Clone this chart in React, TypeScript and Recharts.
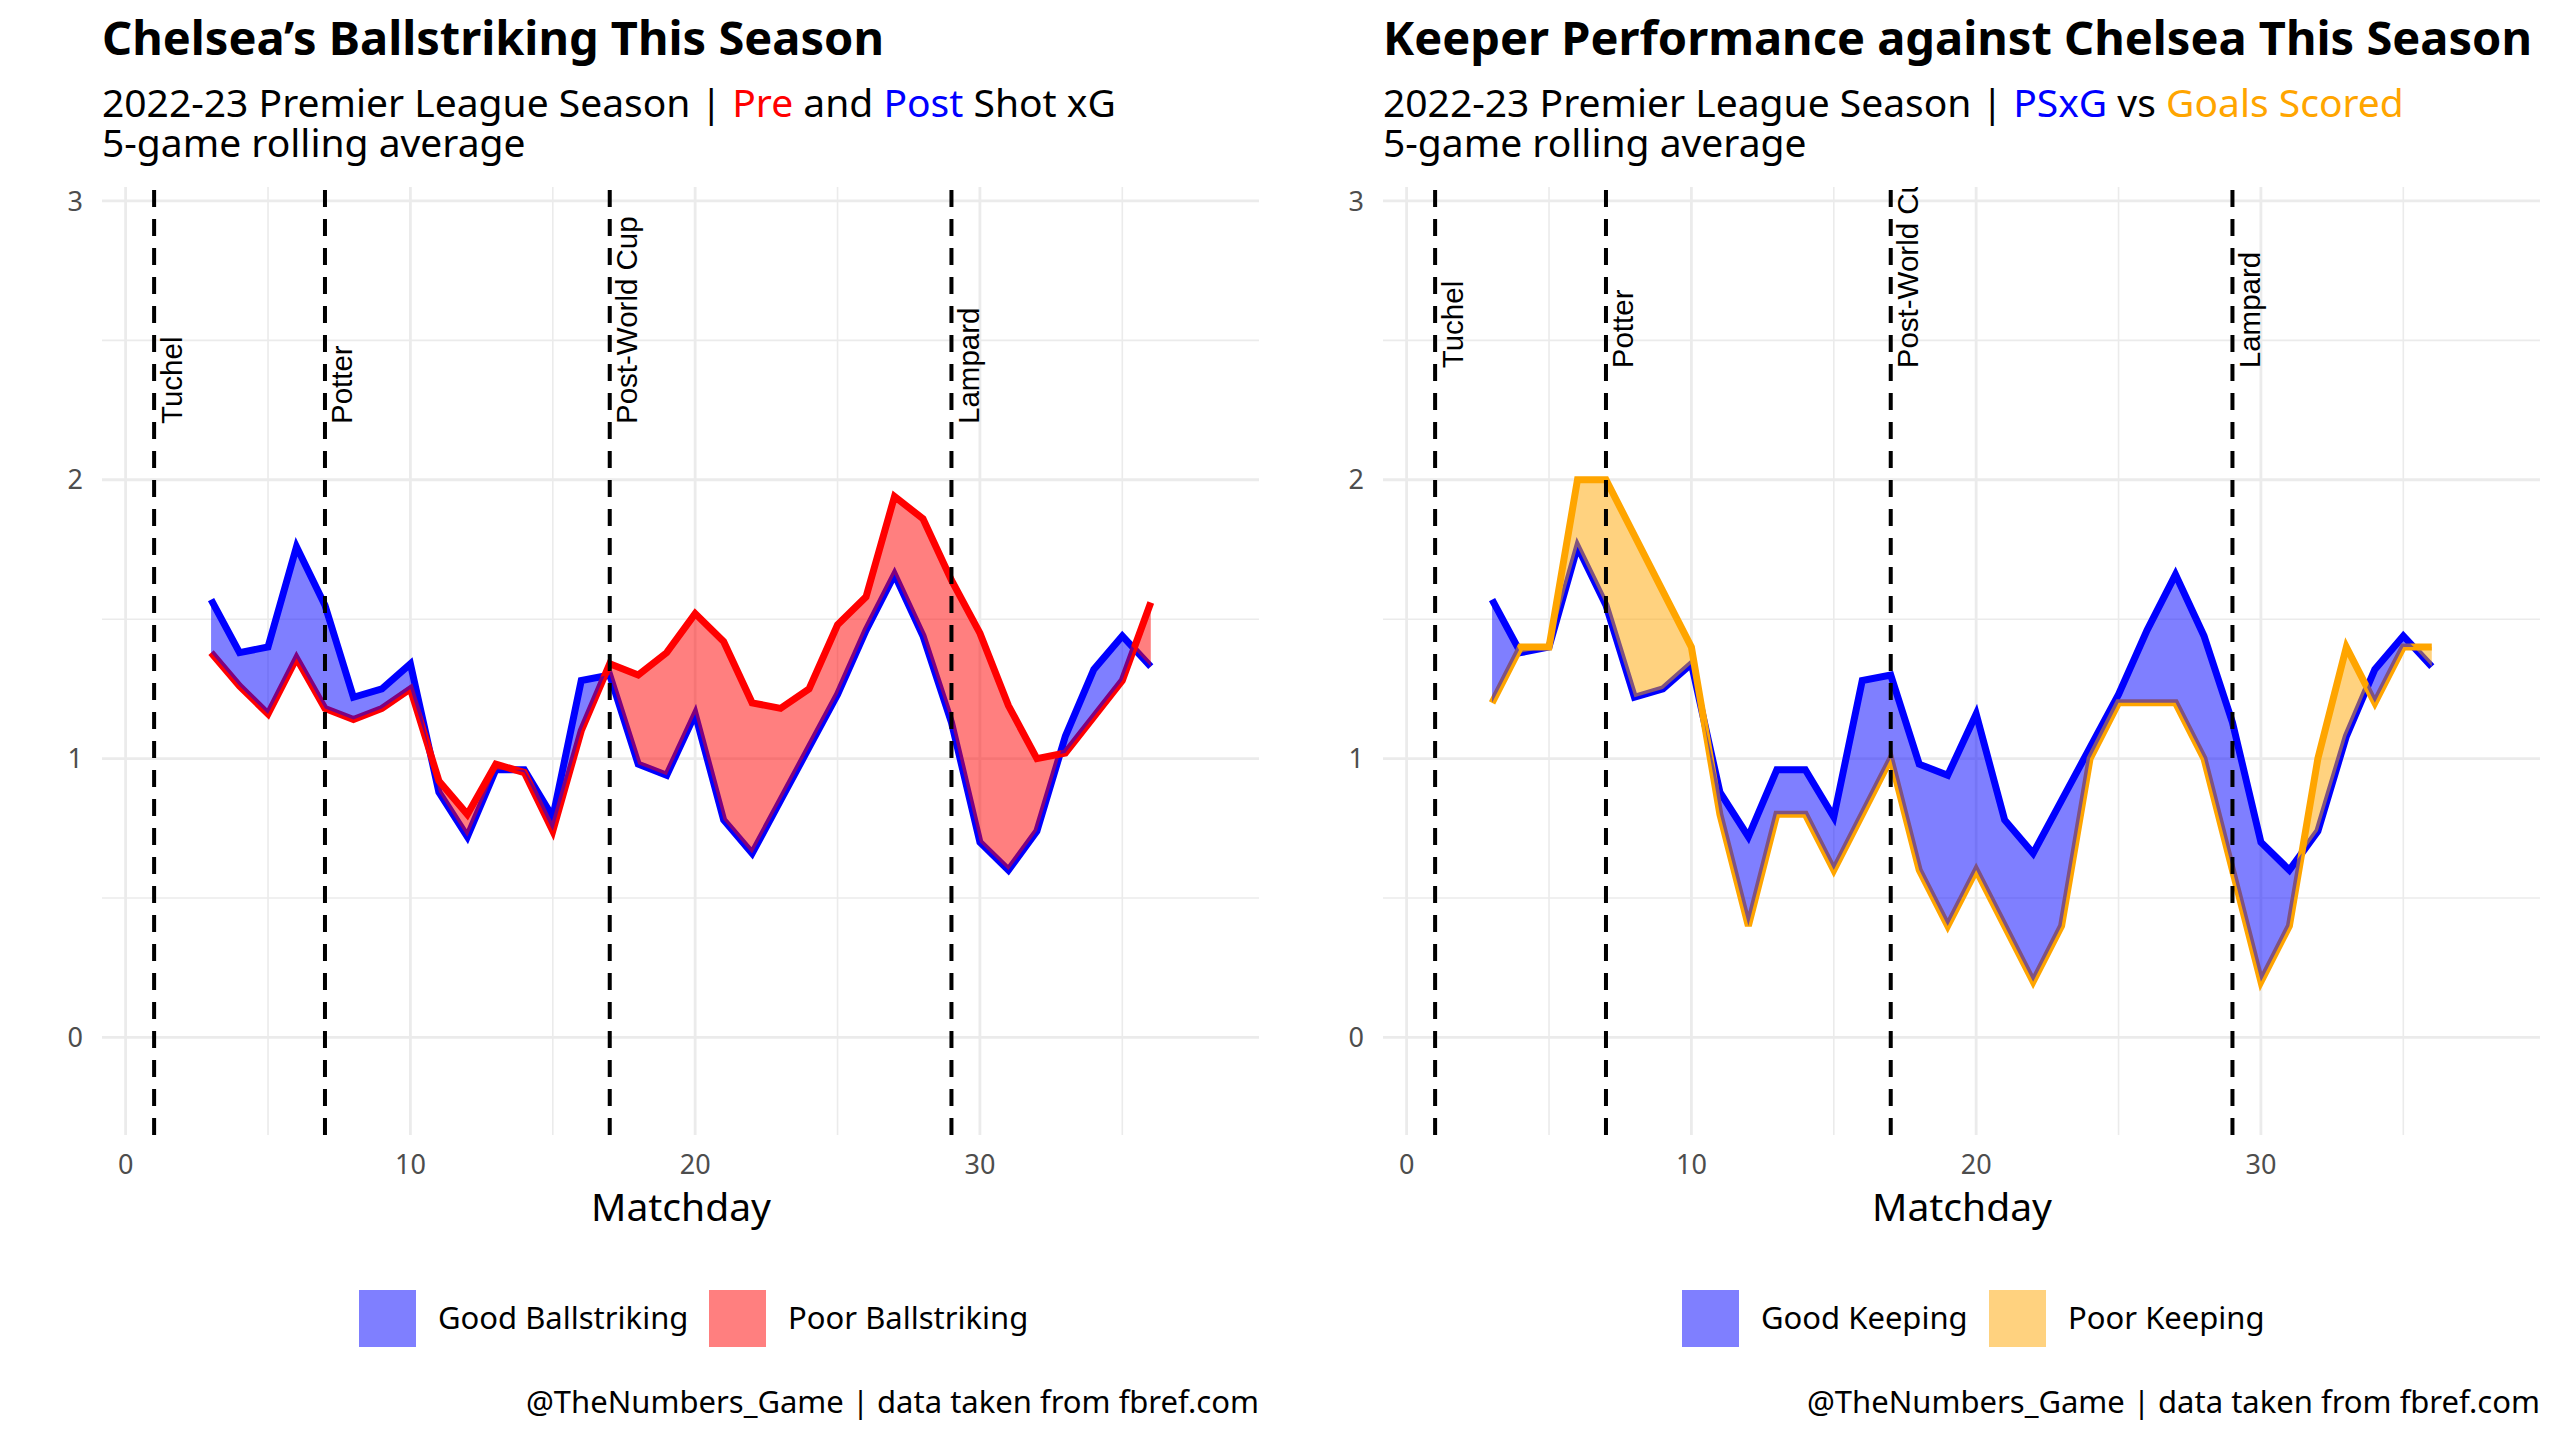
import React from "react";
import {
  Area,
  ComposedChart,
  Line,
  ReferenceDot,
  ReferenceLine,
  XAxis,
  YAxis,
} from "recharts";

const matchdays = [
  3, 4, 5, 6, 7, 8, 9, 10, 11, 12, 13, 14, 15, 16, 17, 18, 19, 20, 21, 22, 23,
  24, 25, 26, 27, 28, 29, 30, 31, 32, 33, 34, 35, 36,
];
const preShotXG = [
  1.38, 1.26, 1.16, 1.36, 1.18, 1.14, 1.18, 1.25, 0.92, 0.8, 0.98, 0.95, 0.74,
  1.1, 1.34, 1.3, 1.38, 1.52, 1.42, 1.2, 1.18, 1.25, 1.48, 1.58, 1.94, 1.86,
  1.64, 1.45, 1.19, 1.0, 1.02, 1.15, 1.28, 1.56,
];
const postShotXG = [
  1.57, 1.38, 1.4, 1.76, 1.55, 1.22, 1.25, 1.34, 0.88, 0.72, 0.96, 0.96, 0.79,
  1.28, 1.3, 0.98, 0.94, 1.16, 0.78, 0.66, 0.85, 1.04, 1.23, 1.46, 1.66, 1.44,
  1.13, 0.7, 0.6, 0.74, 1.08, 1.32, 1.44, 1.33,
];
const goalsScored = [
  1.2, 1.4, 1.4, 2.0, 2.0, 1.8, 1.6, 1.4, 0.8, 0.4, 0.8, 0.8, 0.6, 0.8, 1.0,
  0.6, 0.4, 0.6, 0.4, 0.2, 0.4, 1.0, 1.2, 1.2, 1.2, 1.0, 0.6, 0.2, 0.4, 1.0,
  1.4, 1.2, 1.4, 1.4,
];

const eventMatchdays = [1, 7, 17, 29];
const eventLabels = ["Tuchel", "Potter", "Post-World Cup", "Lampard"];

const xTicks = [0, 10, 20, 30];
const xMinor = [5, 15, 25, 35];
const yTicks = [0, 1, 2, 3];
const yMinor = [0.5, 1.5, 2.5];

const BLUE = "#0000FF";
const RED = "#FF0000";
const ORANGE = "#FFA500";
const GRID = "#EBEBEB";
const FONT = '"Noto Sans", sans-serif';

// ribbon table: adds the crossing point between two rows so the fill switches colour there
function ribbonRows(top: number[], other: number[]) {
  const rows: any[] = [];
  for (let i = 0; i < matchdays.length; i++) {
    rows.push({ md: matchdays[i], a: top[i], b: other[i] });
    if (i < matchdays.length - 1) {
      const d0 = top[i] - other[i];
      const d1 = top[i + 1] - other[i + 1];
      if (d0 * d1 < 0) {
        const t = d0 / (d0 - d1);
        const md = matchdays[i] + t * (matchdays[i + 1] - matchdays[i]);
        const v = top[i] + t * (top[i + 1] - top[i]);
        rows.push({ md, a: v, b: v });
      }
    }
  }
  return rows.map((r) => ({
    ...r,
    good: r.a >= r.b ? [r.b, r.a] : [r.a, r.a],
    poor: r.b >= r.a ? [r.a, r.b] : [r.b, r.b],
  }));
}

function lineRows(top: number[], other: number[]) {
  return matchdays.map((md, i) => ({ md, a: top[i], b: other[i] }));
}

type PanelProps = {
  id: string;
  top: number[];
  other: number[];
  otherColor: string;
  labelY: number;
};

function Panel({ id, top, other, otherColor, labelY }: PanelProps) {
  const ribbon = ribbonRows(top, other);
  const lines = lineRows(top, other);
  const tick = { fill: "#4D4D4D", fontSize: 27, fontFamily: FONT };
  const clipId = "labels-" + id;
  return (
    <ComposedChart
      width={1280}
      height={1240}
      data={ribbon}
      margin={{ top: 187, right: 21, bottom: 0, left: 0 }}
    >
      <defs>
        <clipPath id={clipId}>
          <rect x={102} y={187} width={1157} height={948} />
        </clipPath>
      </defs>
      <XAxis
        dataKey="md"
        type="number"
        domain={[-0.83, 39.8]}
        allowDataOverflow
        ticks={xTicks}
        interval={0}
        axisLine={false}
        tickLine={false}
        tickSize={0}
        tickMargin={20}
        height={105}
        tick={tick}
      />
      <YAxis
        type="number"
        domain={[-0.35, 3.05]}
        allowDataOverflow
        ticks={yTicks}
        interval={0}
        axisLine={false}
        tickLine={false}
        tickSize={0}
        tickMargin={19}
        width={102}
        tick={tick}
      />
      {yMinor.map((v) => (
        <ReferenceLine key={"ym" + v} y={v} stroke={GRID} strokeWidth={1.6} zIndex={-100} />
      ))}
      {xMinor.map((v) => (
        <ReferenceLine key={"xm" + v} x={v} stroke={GRID} strokeWidth={1.6} zIndex={-100} />
      ))}
      {yTicks.map((v) => (
        <ReferenceLine key={"y" + v} y={v} stroke={GRID} strokeWidth={2.8} zIndex={-100} />
      ))}
      {xTicks.map((v) => (
        <ReferenceLine key={"x" + v} x={v} stroke={GRID} strokeWidth={2.8} zIndex={-100} />
      ))}
      <Line
        data={lines}
        dataKey="a"
        type="linear"
        stroke={BLUE}
        strokeWidth={7}
        dot={false}
        activeDot={false}
        isAnimationActive={false}
        zIndex={400}
      />
      <Line
        data={lines}
        dataKey="b"
        type="linear"
        stroke={otherColor}
        strokeWidth={7}
        dot={false}
        activeDot={false}
        isAnimationActive={false}
        zIndex={410}
      />
      <Area
        dataKey="good"
        type="linear"
        stroke="none"
        fill={BLUE}
        fillOpacity={0.5}
        activeDot={false}
        isAnimationActive={false}
        zIndex={450}
      />
      <Area
        dataKey="poor"
        type="linear"
        stroke="none"
        fill={otherColor}
        fillOpacity={0.5}
        activeDot={false}
        isAnimationActive={false}
        zIndex={450}
      />
      {eventMatchdays.map((x) => (
        <ReferenceLine
          key={"ev" + x}
          x={x}
          stroke="#000"
          strokeWidth={4}
          strokeDasharray="17 12"
          zIndex={600}
        />
      ))}
      {eventMatchdays.map((x, i) => (
        <ReferenceDot
          key={"lab" + x}
          x={x + 0.6}
          y={labelY}
          r={0}
          zIndex={700}
          shape={(p: any) => (
            <g clipPath={`url(#${clipId})`}>
              <text
                x={p.cx}
                y={p.cy}
                dy="0.35em"
                transform={`rotate(-90 ${p.cx} ${p.cy})`}
                fontFamily='"Liberation Sans", Arial, sans-serif'
                fontSize={29.5}
                fill="#000"
                textAnchor="start"
              >
                {eventLabels[i]}
              </text>
            </g>
          )}
        />
      ))}
    </ComposedChart>
  );
}

function LegendKey({ x, color, label }: { x: number; color: string; label: string }) {
  return (
    <g>
      <rect x={x} y={1290} width={57} height={57} fill={color} fillOpacity={0.5} />
      <text x={x + 79} y={1329} fontSize={31} fontFamily={FONT} fill="#000">
        {label}
      </text>
    </g>
  );
}

export default function App() {
  return (
    <div
      style={{
        position: "absolute",
        left: 0,
        top: 0,
        width: 2560,
        height: 1440,
        background: "#fff",
        overflow: "hidden",
      }}
    >
      <svg width={2560} height={1440} style={{ position: "absolute", left: 0, top: 0 }}>
        <g fontFamily={FONT} fill="#000">
          <text x={102} y={55} fontSize={47} fontWeight={700}>
            Chelsea’s Ballstriking This Season
          </text>
          <text x={102} y={117} fontSize={39}>
            2022-23 Premier League Season | <tspan fill={RED}>Pre</tspan> and{" "}
            <tspan fill={BLUE}>Post</tspan> Shot xG
            <tspan x={102} y={157} fill="#000">
              5-game rolling average
            </tspan>
          </text>
          <text x={1383} y={55} fontSize={47} fontWeight={700}>
            Keeper Performance against Chelsea This Season
          </text>
          <text x={1383} y={117} fontSize={39}>
            2022-23 Premier League Season | <tspan fill={BLUE}>PSxG</tspan> vs{" "}
            <tspan fill={ORANGE}>Goals Scored</tspan>
            <tspan x={1383} y={157} fill="#000">
              5-game rolling average
            </tspan>
          </text>
          <text x={681} y={1221} fontSize={39} textAnchor="middle">
            Matchday
          </text>
          <text x={1962} y={1221} fontSize={39} textAnchor="middle">
            Matchday
          </text>
          <text x={1259} y={1413} fontSize={31} textAnchor="end">
            @TheNumbers_Game | data taken from fbref.com
          </text>
          <text x={2540} y={1413} fontSize={31} textAnchor="end">
            @TheNumbers_Game | data taken from fbref.com
          </text>
        </g>
        <LegendKey x={359} color={BLUE} label="Good Ballstriking" />
        <LegendKey x={709} color={RED} label="Poor Ballstriking" />
        <LegendKey x={1682} color={BLUE} label="Good Keeping" />
        <LegendKey x={1989} color={ORANGE} label="Poor Keeping" />
      </svg>
      <div style={{ position: "absolute", left: 0, top: 0 }}>
        <Panel id="l" top={postShotXG} other={preShotXG} otherColor={RED} labelY={2.2} />
      </div>
      <div style={{ position: "absolute", left: 1281, top: 0 }}>
        <Panel id="r" top={postShotXG} other={goalsScored} otherColor={ORANGE} labelY={2.4} />
      </div>
    </div>
  );
}
